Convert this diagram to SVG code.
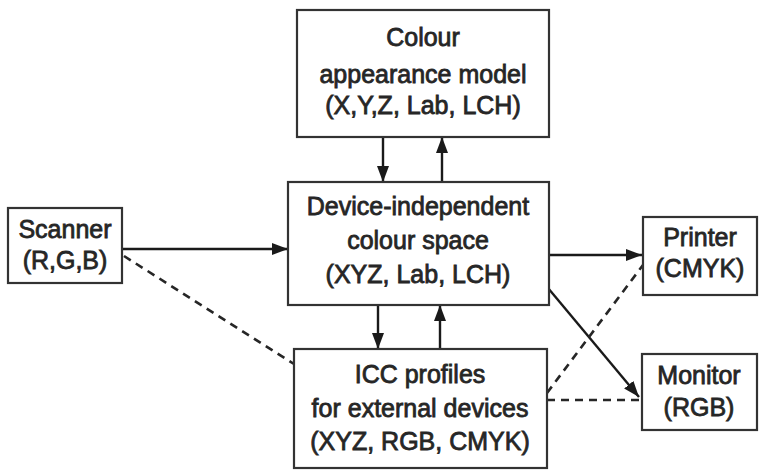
<svg xmlns="http://www.w3.org/2000/svg" width="759" height="470" viewBox="0 0 759 470">
  <defs>
    <marker id="head" viewBox="0 0 16 12" refX="16" refY="6" markerWidth="16" markerHeight="12" markerUnits="userSpaceOnUse" orient="auto">
      <path d="M0,0 L16,6 L0,12 Z" fill="#1a1a1a"/>
    </marker>
    <style>
      .box { fill: #ffffff; stroke: #333333; stroke-width: 2.2; }
      .lbl { font-family: "Liberation Sans", Arial, sans-serif; font-size: 25px; fill: #262626; stroke: #262626; stroke-width: 0.8; text-anchor: middle; }
      .arrow { stroke: #1a1a1a; stroke-width: 2.4; fill: none; marker-end: url(#head); }
      .dash { stroke: #262626; stroke-width: 2.6; fill: none; stroke-dasharray: 8 6; }
    </style>
  </defs>
  <rect width="759" height="470" fill="#ffffff"/>

  <g id="connectors">
    <!-- appearance model <-> device-independent space -->
    <line class="arrow" x1="383" y1="137" x2="383" y2="182"/>
    <line class="arrow" x1="442" y1="182" x2="442" y2="137"/>
    <!-- device-independent space <-> ICC profiles -->
    <line class="arrow" x1="378" y1="305" x2="378" y2="349"/>
    <line class="arrow" x1="440" y1="349" x2="440" y2="305"/>
    <!-- scanner -> space -->
    <line class="arrow" x1="122" y1="249" x2="288" y2="249"/>
    <!-- space -> printer / monitor -->
    <line class="arrow" x1="549" y1="255" x2="642" y2="255"/>
    <line class="arrow" x1="548" y1="288" x2="639" y2="397"/>
    <!-- profile links -->
    <line class="dash" x1="124" y1="256" x2="294" y2="364"/>
    <line class="dash" x1="547" y1="393" x2="643" y2="265"/>
    <line class="dash" x1="547" y1="400" x2="642" y2="400"/>
  </g>

  <g id="appearance-model">
    <rect class="box" x="297" y="10" width="252" height="127"/>
    <text class="lbl" x="423" y="46">Colour</text>
    <text class="lbl" x="423" y="83">appearance model</text>
    <text class="lbl" x="423" y="114">(X,Y,Z, Lab, LCH)</text>
  </g>

  <g id="device-independent">
    <rect class="box" x="288" y="182" width="261" height="123"/>
    <text class="lbl" x="418" y="215">Device-independent</text>
    <text class="lbl" x="418" y="249">colour space</text>
    <text class="lbl" x="418" y="283">(XYZ, Lab, LCH)</text>
  </g>

  <g id="icc-profiles">
    <rect class="box" x="294" y="349" width="253" height="119"/>
    <text class="lbl" x="420" y="383">ICC profiles</text>
    <text class="lbl" x="420" y="417">for external devices</text>
    <text class="lbl" x="420" y="450">(XYZ, RGB, CMYK)</text>
  </g>

  <g id="scanner">
    <rect class="box" x="8" y="208" width="114" height="75"/>
    <text class="lbl" x="65" y="238">Scanner</text>
    <text class="lbl" x="65" y="269">(R,G,B)</text>
  </g>

  <g id="printer">
    <rect class="box" x="643" y="217" width="114" height="78"/>
    <text class="lbl" x="700" y="246">Printer</text>
    <text class="lbl" x="700" y="277">(CMYK)</text>
  </g>

  <g id="monitor">
    <rect class="box" x="642" y="354" width="115" height="76"/>
    <text class="lbl" x="699" y="384">Monitor</text>
    <text class="lbl" x="699" y="416">(RGB)</text>
  </g>
</svg>
